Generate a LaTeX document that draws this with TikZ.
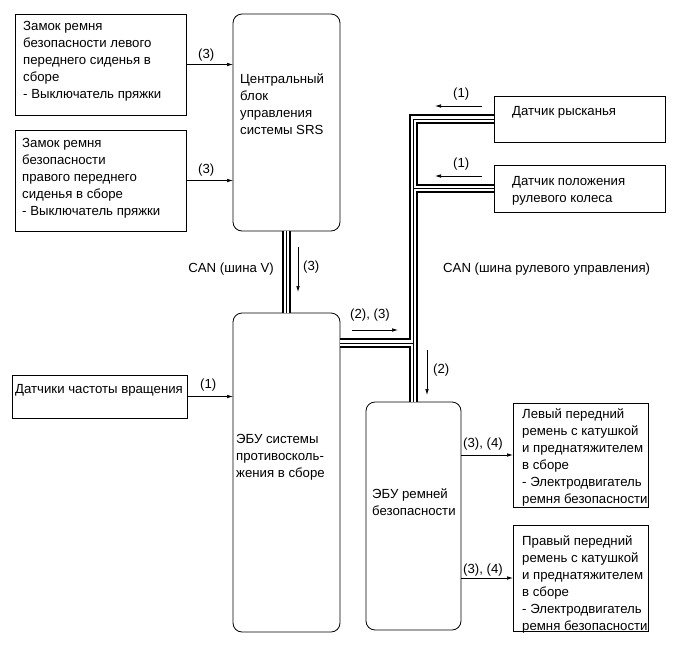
\documentclass[tikz,border=0pt]{standalone}
\usepackage{fontspec}
\setmainfont{Liberation Sans}
\usetikzlibrary{arrows.meta}
\begin{document}
\begin{tikzpicture}[x=1pt,y=-1pt,
  font=\fontsize{13.2}{17}\selectfont,
  box/.style={draw, line width=0.8pt, inner sep=0pt, outer sep=0pt, anchor=north west},
  ecu/.style={box, rounded corners=9pt},
  txt/.style={anchor=base west, align=left, inner sep=0pt},
  lbl/.style={anchor=base west, inner sep=0pt},
  arr/.style={-{Latex[length=6pt,width=3.6pt]}, line width=0.7pt}]
\useasboundingbox (0,0) rectangle (686,662);
% boxes
\node[box, minimum width=171pt, minimum height=101pt] (A) at (15,14) {};
\node[box, minimum width=171pt, minimum height=101pt] (B) at (15,130) {};
\node[ecu, minimum width=107pt, minimum height=217pt] (SRS) at (233,14) {};
\node[box, minimum width=175pt, minimum height=43pt] (speed) at (12,375) {};
\node[ecu, minimum width=107pt, minimum height=319pt] (skid) at (233,313) {};
\node[box, minimum width=171pt, minimum height=46pt] (yaw) at (494,96) {};
\node[box, minimum width=171pt, minimum height=47pt] (steer) at (494,165) {};
\node[ecu, minimum width=95pt, minimum height=228pt] (belt) at (366,402) {};
\node[box, minimum width=135pt, minimum height=104pt] (lb) at (513,403) {};
\node[box, minimum width=135pt, minimum height=106pt] (rb) at (513,525) {};
% texts (base anchor = baseline of the last line)
\node[txt] (tA) at (23,98) {Замок ремня\\безопасности левого\\переднего сиденья в\\сборе\\- Выключатель пряжки};
\node[txt] (tB) at (22,215) {Замок ремня\\безопасности\\правого переднего\\сиденья в сборе\\- Выключатель пряжки};
\node[txt] (tSRS) at (240,134) {Центральный\\блок\\управления\\системы SRS};
\node[txt] (tspeed) at (15,393) {Датчики частоты вращения};
\node[txt] (tskid) at (236,477) {ЭБУ системы\\противосколь-\\жения в сборе};
\node[txt] (tyaw) at (512,115) {Датчик рысканья};
\node[txt] (tsteer) at (512,202) {Датчик положения\\рулевого колеса};
\node[txt] (tbelt) at (372,515) {ЭБУ ремней\\безопасности};
\node[txt] (tlb) at (522,503) {Левый передний\\ремень с катушкой\\и преднатяжителем\\в сборе\\- Электродвигатель\\ремня безопасности};
\node[txt] (trb) at (522,630) {Правый передний\\ремень с катушкой\\и преднатяжителем\\в сборе\\- Электродвигатель\\ремня безопасности};
% bus
\coordinate (jA) at (413.5,343);
\foreach \w/\c in {9.5pt/black, 5.5pt/white, 1pt/black}
  \draw[line width=\w, color=\c, line join=miter]
    (SRS.south) -- (skid.north)
    (skid.east |- jA) -- (jA)
    (yaw.west) -- (yaw.west -| jA) -- (jA |- belt.north)
    (steer.west) -- (steer.west -| jA);
% connectors
\draw[arr] (A.east) -- (A.east -| SRS.west);
\draw[arr] (B.east) -- (B.east -| SRS.west);
\draw[arr] (speed.east) -- (speed.east -| skid.west);
\draw[arr] (lb.west -| belt.east) -- (lb.west);
\draw[arr] (rb.west -| belt.east) -- (rb.west);
% direction arrows
\draw[arr] (298,247) -- (298,292);
\draw[arr] (352,330) -- (398,330);
\draw[arr] (427,350) -- (427,395);
\draw[arr] (482,106) -- (435,106);
\draw[arr] (482,176) -- (435,176);
% labels
\node[lbl] (l1) at (198,58) {(3)};
\node[lbl] (l2) at (198,173) {(3)};
\node[lbl] (l3) at (200,388) {(1)};
\node[lbl] (l4) at (303,270) {(3)};
\node[lbl, anchor=base east] (l5) at (274,272) {CAN (шина V)};
\node[lbl] (l6) at (350,318) {(2), (3)};
\node[lbl] (l7) at (433,373) {(2)};
\node[lbl] (l8) at (443,272) {CAN (шина рулевого управления)};
\node[lbl] (l9) at (453,97) {(1)};
\node[lbl] (l10) at (453,167) {(1)};
\node[lbl] (l11) at (463,447) {(3), (4)};
\node[lbl] (l12) at (463,573) {(3), (4)};
\end{tikzpicture}
\end{document}
